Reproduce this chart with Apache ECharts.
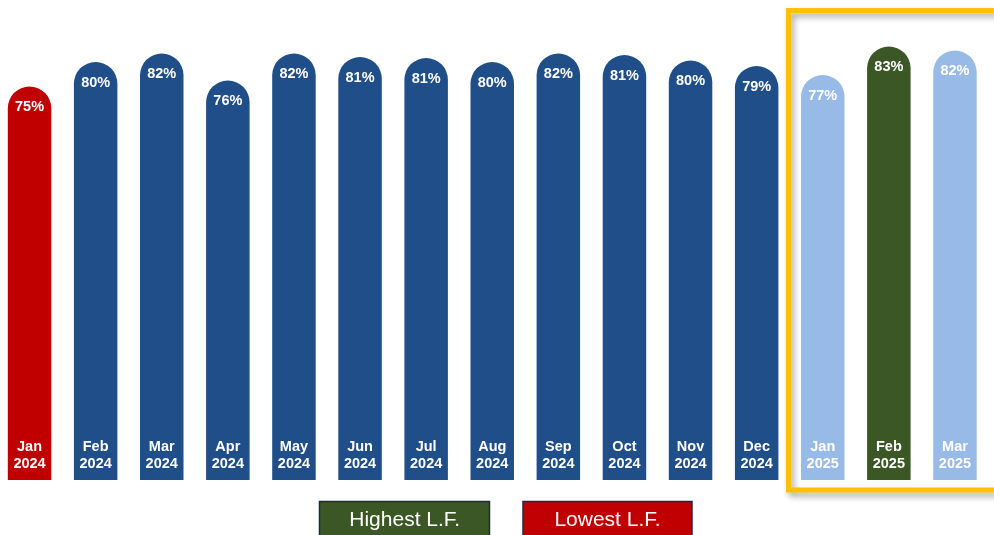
<!DOCTYPE html>
<html>
<head>
<meta charset="utf-8">
<script src="https://cdn.jsdelivr.net/npm/echarts@6/dist/echarts.min.js"></script>
<style>
html,body{margin:0;padding:0;background:#fff;overflow:hidden;}
#chart{position:absolute;left:-4px;top:0;width:1002px;height:535px;}
</style>
</head>
<body>
<div id="chart"></div>
<script>
// Data
var months = ['Jan','Feb','Mar','Apr','May','Jun','Jul','Aug','Sep','Oct','Nov','Dec','Jan','Feb','Mar'];
var years = ['2024','2024','2024','2024','2024','2024','2024','2024','2024','2024','2024','2024','2025','2025','2025'];
var loadFactor = [75.1, 80.0, 81.7, 76.3, 81.7, 81.0, 80.8, 80.0, 81.7, 81.4, 80.3, 79.2, 77.4, 83.1, 82.3];
var barColors = ['#C00000','#1F4E89','#1F4E89','#1F4E89','#1F4E89','#1F4E89','#1F4E89','#1F4E89','#1F4E89','#1F4E89','#1F4E89','#1F4E89','#97BAE6','#3B5726','#97BAE6'];
var legendLabels = ['Highest L.F.', 'Lowest L.F.'];
var legendColors = ['#3B5726', '#C00000'];

var categories = months.map(function (m, i) { return m + '\n' + years[i]; });
var chart = echarts.init(document.getElementById('chart'));
var dx = 4; // container is shifted 4px left

var option = {
  animation: false,
  backgroundColor: '#ffffff',
  grid: { left: 0.5, right: 10, top: 12, bottom: 55, containLabel: false },
  xAxis: {
    type: 'category',
    data: categories,
    axisLine: { show: false, onZero: false },
    axisTick: { show: false },
    splitLine: { show: false },
    axisLabel: {
      inside: true,
      margin: 8,
      color: '#ffffff',
      fontFamily: 'Liberation Sans, Arial, sans-serif',
      fontWeight: 'bold',
      fontSize: 14.5,
      lineHeight: 17
    },
    z: 10
  },
  yAxis: {
    type: 'value',
    min: -3.6,
    max: 90,
    startValue: -3.6,
    show: false,
    splitLine: { show: false }
  },
  series: [{
    type: 'bar',
    barWidth: 43.5,
    data: loadFactor.map(function (v, i) {
      return { value: v, itemStyle: { color: barColors[i] } };
    }),
    itemStyle: { borderRadius: [21.75, 21.75, 0, 0] },
    label: {
      show: true,
      position: 'insideTop',
      distance: 12,
      color: '#ffffff',
      fontFamily: 'Liberation Sans, Arial, sans-serif',
      fontWeight: 'bold',
      fontSize: 14.5,
      lineHeight: 17,
      formatter: function (p) { return Math.round(p.value) + '%'; }
    }
  }],
  graphic: [
    {
      type: 'rect',
      z: 100,
      shape: { x: 788.5 + dx, y: 10.5, width: 230, height: 479.5 },
      style: {
        fill: 'none',
        stroke: '#FFC000',
        lineWidth: 5,
        shadowBlur: 6,
        shadowColor: 'rgba(0,0,0,0.35)',
        shadowOffsetX: 3,
        shadowOffsetY: 4
      }
    },
    {
      type: 'rect',
      z: 100,
      shape: { x: 319.5 + dx, y: 501.5, width: 170, height: 45 },
      style: { fill: legendColors[0], stroke: '#1B2A3F', lineWidth: 1.5 }
    },
    {
      type: 'text',
      z: 101,
      x: 404.7 + dx, y: 520,
      style: {
        text: legendLabels[0],
        fill: '#ffffff',
        font: '21px "Liberation Sans", Arial, sans-serif',
        align: 'center',
        verticalAlign: 'middle'
      }
    },
    {
      type: 'rect',
      z: 100,
      shape: { x: 523 + dx, y: 501.5, width: 169, height: 45 },
      style: { fill: legendColors[1], stroke: '#1B2A3F', lineWidth: 1.5 }
    },
    {
      type: 'text',
      z: 101,
      x: 607.5 + dx, y: 520,
      style: {
        text: legendLabels[1],
        fill: '#ffffff',
        font: '21px "Liberation Sans", Arial, sans-serif',
        align: 'center',
        verticalAlign: 'middle'
      }
    }
  ]
};
chart.setOption(option);
</script>
</body>
</html>
